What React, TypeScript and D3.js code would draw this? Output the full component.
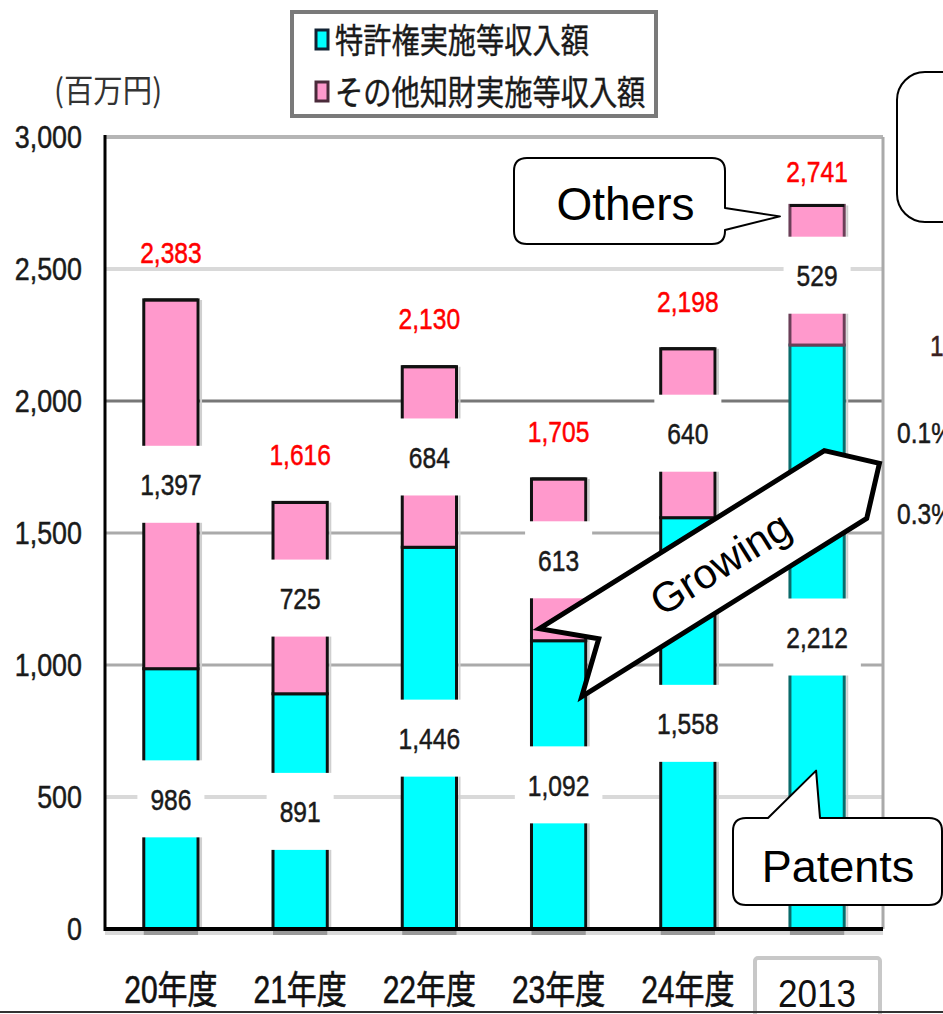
import React from "react";
import * as d3 from "d3";

// Licence income by fiscal year (million yen)
const categories = ["20年度", "21年度", "22年度", "23年度", "24年度", "2013"];
const patentIncome = [986, 891, 1446, 1092, 1558, 2212];
const otherIncome = [1397, 725, 684, 613, 640, 529];
const totalIncome = [2383, 1616, 2130, 1705, 2198, 2741];
const yTicks = [0, 500, 1000, 1500, 2000, 2500, 3000];
const legendLabels = ["特許権実施等収入額", "その他知財実施等収入額"];
const unitLabel = "(百万円)";
const sideNotes = ["1", "0.1%", "0.3%"];
const calloutTexts = { others: "Others", patents: "Patents", trend: "Growing" };

const W = 943;
const H = 1014;
const plot = { left: 105, right: 883, top: 137, bottom: 929 };

const NUM_FONT = "'Liberation Sans', Arial, sans-serif";
const CJK_FONT = "'Liberation Sans', 'Noto Sans CJK JP', sans-serif";
const CYAN = "#00ffff";
const PINK = "#ff99cc";

const fmt = d3.format(",");

function CText({ x, y, sx = 0.82, size = 30, fill = "#1a1a1a", anchor = "middle", family = NUM_FONT, children }: any) {
  return (
    <text
      transform={`translate(${x},${y}) scale(${sx},1)`}
      fontSize={size}
      fill={fill}
      stroke={fill}
      strokeWidth={0.5}
      textAnchor={anchor}
      fontFamily={family}
      dy="0.36em"
    >
      {children}
    </text>
  );
}

// width of a condensed number label, used to size its white backing box
function numWidth(s: string, size = 30, sx = 0.82) {
  let w = 0;
  for (const c of s) w += c === "," ? 0.278 : 0.556;
  return w * size * sx;
}

function gridStyle(v: number) {
  if (v === 2000) return { stroke: "#777", width: 3 };
  if (v === 2500 || v === 500) return { stroke: "#d9d9d9", width: 4 };
  return { stroke: "#aaa", width: 3 };
}

export default function App() {
  const x = d3
    .scaleBand<string>()
    .domain(categories)
    .range([plot.left, plot.right])
    .paddingInner(0.58)
    .paddingOuter(0.3);
  const y = d3.scaleLinear().domain([0, 3000]).range([plot.bottom, plot.top]);
  const bw = x.bandwidth();

  const last = categories.length - 1;
  const lastCx = (x(categories[last]) as number) + bw / 2;

  // callout bubble with a pointer on its right side
  const r = 13;
  const ob = { l: 514, r: 725, t: 158, b: 244 };
  const oTip = { x: (x(categories[last]) as number) - 10, y: y(totalIncome[last]) + 11 };
  const othersPath = `M${ob.l + r},${ob.t} H${ob.r - r} Q${ob.r},${ob.t} ${ob.r},${ob.t + r} V208 L${oTip.x},${oTip.y} L${ob.r},230 V${ob.b - r} Q${ob.r},${ob.b} ${ob.r - r},${ob.b} H${ob.l + r} Q${ob.l},${ob.b} ${ob.l},${ob.b - r} V${ob.t + r} Q${ob.l},${ob.t} ${ob.l + r},${ob.t} Z`;

  // callout bubble with a pointer on its top side
  const pb = { l: 733, r: 942, t: 818, b: 905 };
  const pTip = { x: lastCx - 1, y: y(600) };
  const patentsPath = `M${pb.l + r},${pb.t} H768 L${pTip.x},${pTip.y} L820,${pb.t} H${pb.r - r} Q${pb.r},${pb.t} ${pb.r},${pb.t + r} V${pb.b - r} Q${pb.r},${pb.b} ${pb.r - r},${pb.b} H${pb.l + r} Q${pb.l},${pb.b} ${pb.l},${pb.b - r} V${pb.t + r} Q${pb.l},${pb.t} ${pb.l + r},${pb.t} Z`;

  // chevron-shaped trend arrow in its own rotated frame
  const arrowPts = [
    [-188, -40],
    [148, -40],
    [188, 0],
    [148, 40],
    [-188, 40],
    [-143, 0],
  ];

  return (
    <div>
      <style>{`body{margin:0}`}</style>
      <svg width={W} height={H} style={{ display: "block", background: "#fff" }}>
        {/* legend */}
        <rect x={292} y={12} width={364} height={104} fill="#fff" stroke="#7a7a7a" strokeWidth={4} />
        {legendLabels.map((t, i) => (
          <g key={t}>
            <rect
              x={316}
              y={30 + i * 52}
              width={12}
              height={19}
              fill={i === 0 ? CYAN : PINK}
              stroke={i === 0 ? "#123" : "#4a2a3a"}
              strokeWidth={3}
            />
            <text
              transform={`translate(335,${41 + i * 52}) scale(0.83,1)`}
              fontSize={34}
              fontFamily="'Noto Sans CJK JP', sans-serif"
              fill="#1a1a1a"
              stroke="#1a1a1a"
              strokeWidth={0.4}
              dy="0.36em"
            >
              {t}
            </text>
          </g>
        ))}

        {/* unit */}
        <text
          transform={`translate(54,90) scale(0.92,1)`}
          fontSize={32}
          fontFamily="'Noto Sans CJK JP', sans-serif"
          fill="#333"
          dy="0.36em"
        >
          {unitLabel}
        </text>

        {/* gridlines */}
        {yTicks
          .filter((v) => v > 0 && v < 3000)
          .map((v) => {
            const s = gridStyle(v);
            return (
              <line key={v} x1={plot.left} x2={plot.right} y1={y(v)} y2={y(v)} stroke={s.stroke} strokeWidth={s.width} />
            );
          })}
        <line x1={plot.left} x2={plot.right} y1={plot.top} y2={plot.top} stroke="#b5b5b5" strokeWidth={4} />
        <line x1={plot.right} x2={plot.right} y1={plot.top} y2={plot.bottom} stroke="#aaa" strokeWidth={3} />

        {/* under-axis shadow */}
        <line x1={plot.left} x2={plot.right} y1={plot.bottom + 4} y2={plot.bottom + 4} stroke="#d9d9d9" strokeWidth={4} />
        {categories.map((c) => (
          <line
            key={"sh" + c}
            x1={x(c) as number}
            x2={(x(c) as number) + bw}
            y1={plot.bottom + 4}
            y2={plot.bottom + 4}
            stroke="#999"
            strokeWidth={4}
          />
        ))}

        {/* stacked bars */}
        {categories.map((c, i) => {
          const x0 = x(c) as number;
          const isLast = i === last;
          const yP = y(patentIncome[i]);
          const yT = y(totalIncome[i]);
          return (
            <g key={c}>
              <line x1={x0 + bw + 3} x2={x0 + bw + 3} y1={yT} y2={plot.bottom} stroke="#cfcfcf" strokeWidth={2} />
              <rect
                x={x0}
                y={yP}
                width={bw}
                height={plot.bottom - yP}
                fill={CYAN}
                stroke={isLast ? "#0a6b6b" : "#111"}
                strokeWidth={3}
              />
              <rect
                x={x0}
                y={yT}
                width={bw}
                height={yP - yT}
                fill={PINK}
                stroke={isLast ? "#6b3f58" : "#111"}
                strokeWidth={3}
              />
              <line x1={x0} x2={x0 + bw} y1={yT} y2={yT} stroke="#111" strokeWidth={3} />
            </g>
          );
        })}

        {/* segment value labels on white boxes */}
        {categories.map((c, i) => {
          const cx = (x(c) as number) + bw / 2;
          const segs = [
            { v: patentIncome[i], mid: y(patentIncome[i] / 2) },
            { v: otherIncome[i], mid: y(patentIncome[i] + otherIncome[i] / 2) },
          ];
          return segs.map((s, k) => {
            const label = fmt(s.v);
            const bwid = numWidth(label) + 26;
            return (
              <g key={c + k}>
                <rect x={cx - bwid / 2} y={s.mid - 38.5} width={bwid} height={77} fill="#fff" />
                <CText x={cx} y={s.mid}>
                  {label}
                </CText>
              </g>
            );
          });
        })}

        {/* totals */}
        {categories.map((c, i) => (
          <CText
            key={"t" + c}
            x={(x(c) as number) + bw / 2}
            y={y(totalIncome[i]) - (i === last ? 34 : 48)}
            fill="#ff0000"
          >
            {fmt(totalIncome[i])}
          </CText>
        ))}

        {/* axes */}
        <line x1={plot.left} x2={plot.left} y1={plot.top - 2} y2={plot.bottom + 2} stroke="#000" strokeWidth={3} />
        <line x1={plot.left} x2={plot.right} y1={plot.bottom} y2={plot.bottom} stroke="#000" strokeWidth={4} />
        {yTicks.map((v) => (
          <CText key={"y" + v} x={82} y={y(v) - 1} anchor="end" size={32} sx={0.84} fill="#1a1a1a">
            {fmt(v)}
          </CText>
        ))}

        {/* category labels */}
        {categories.map((c, i) => {
          const cx = (x(c) as number) + bw / 2;
          if (i === last) {
            return (
              <g key={"x" + c}>
                <rect x={755} y={958} width={125} height={80} rx={3} fill="#fff" stroke="#c8c8c8" strokeWidth={4} />
                <text
                  transform={`translate(${cx},1007) scale(0.9,1)`}
                  fontSize={39}
                  fontFamily={NUM_FONT}
                  textAnchor="middle"
                  fill="#111"
                >
                  {c}
                </text>
              </g>
            );
          }
          return (
            <text
              key={"x" + c}
              transform={`translate(${cx},989) scale(0.79,1)`}
              fontSize={38}
              fontFamily={CJK_FONT}
              textAnchor="middle"
              fill="#111"
              stroke="#111"
              strokeWidth={0.6}
              dy="0.36em"
            >
              {c}
            </text>
          );
        })}

        {/* side notes running off the right edge */}
        <rect x={897} y={72} width={120} height={150} rx={28} fill="#fff" stroke="#000" strokeWidth={2} />
        <CText x={930} y={345} anchor="start" size={30} fill="#3a2020">
          {sideNotes[0]}
        </CText>
        <CText x={897} y={432} anchor="start" size={30} fill="#1a1a1a">
          {sideNotes[1]}
        </CText>
        <CText x={897} y={513} anchor="start" size={30} fill="#1a1a1a">
          {sideNotes[2]}
        </CText>

        {/* callouts */}
        <path d={othersPath} fill="#fff" stroke="#000" strokeWidth={2} strokeLinejoin="round" />
        <text x={(ob.l + ob.r) / 2 + 6} y={220} fontSize={46} fontFamily={NUM_FONT} textAnchor="middle" fill="#000">
          {calloutTexts.others}
        </text>
        <path d={patentsPath} fill="#fff" stroke="#000" strokeWidth={2} strokeLinejoin="round" />
        <text x={838} y={882} fontSize={45} fontFamily={NUM_FONT} textAnchor="middle" fill="#000">
          {calloutTexts.patents}
        </text>

        {/* trend arrow */}
        <g transform="translate(720,563) rotate(-32)">
          <polygon
            points={arrowPts.map((p) => p.join(",")).join(" ")}
            fill="#fff"
            stroke="#000"
            strokeWidth={5}
            strokeLinejoin="miter"
          />
          <text fontSize={42} fontFamily={NUM_FONT} textAnchor="middle" dy="0.36em" fill="#000">
            {calloutTexts.trend}
          </text>
        </g>

        {/* bottom rule */}
        <line x1={0} x2={W} y1={1012} y2={1012} stroke="#333" strokeWidth={2} />
      </svg>
    </div>
  );
}
